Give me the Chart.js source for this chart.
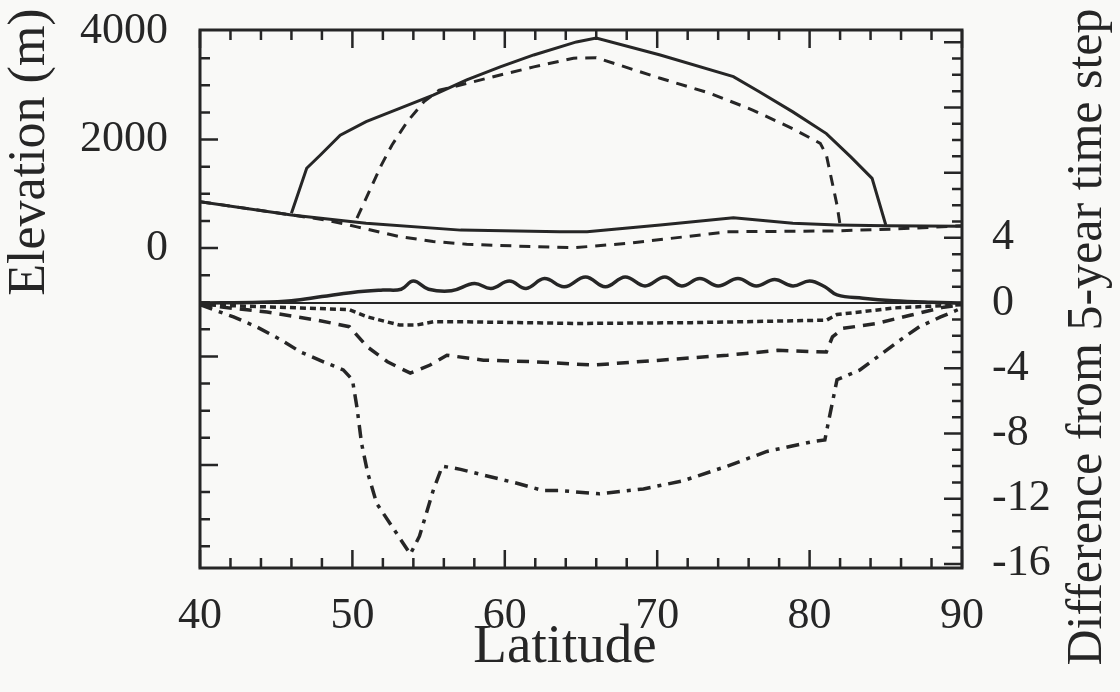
<!DOCTYPE html>
<html>
<head>
<meta charset="utf-8">
<title>Elevation and difference from 5-year time step</title>
<script src="https://cdn.jsdelivr.net/npm/chart.js@4.4.1/dist/chart.umd.min.js"></script>
<style>
  html, body { margin: 0; padding: 0; background: #f9f9f7; }
  #wrap { width: 1120px; height: 692px; position: relative; }
</style>
</head>
<body>
<div id="wrap"><canvas id="chart"></canvas></div>
<script>
// tick labels
const latTicks = [40, 50, 60, 70, 80, 90];
const elevTicks = [0, 2000, 4000];
const diffTicks = [-16, -12, -8, -4, 0, 4];

// upper panel: elevation (m)
const surfLat  = [46.0, 47.0, 47.9, 49.2, 50.9, 53.1, 55.3, 57.5, 59.7, 61.9, 64.7, 66.0, 70.2, 75.0, 76.7, 78.9, 81.1, 82.7, 84.1, 85.0];
const surfElev = [640, 1470, 1715, 2080, 2330, 2575, 2820, 3100, 3340, 3560, 3800, 3870, 3560, 3160, 2880, 2510, 2110, 1680, 1285, 425];

const surf5Lat  = [50.3, 51.2, 51.9, 52.6, 53.6, 54.7, 55.7, 57.5, 59.7, 61.9, 64.5, 66.0, 70.2, 73.5, 76.3, 78.9, 80.7, 81.1, 81.8, 82.0];
const surf5Elev = [550, 1100, 1530, 1900, 2330, 2700, 2910, 3035, 3190, 3340, 3500, 3510, 3130, 2850, 2540, 2200, 1930, 1715, 790, 425];

const bedLat  = [40, 46.0, 50.9, 57.1, 63.6, 65.4, 70.2, 75.0, 78.9, 81.8, 85.0, 90];
const bedElev = [855, 610, 455, 330, 300, 300, 425, 560, 455, 425, 410, 400];

const bed5Lat  = [40, 46.0, 48.3, 50.3, 53.1, 55.3, 57.5, 61.9, 64.5, 68.0, 71.9, 74.6, 81.6, 85.5, 90];
const bed5Elev = [855, 610, 515, 390, 210, 120, 70, 25, 5, 85, 210, 300, 315, 350, 410];

// lower panel: difference from 5-year time step
const zeroLat  = [40, 90];
const zeroDiff = [0, 0];

const waveLat  = [40, 44, 46, 48, 50, 52, 53.2, 54.0, 55.0, 56.5, 58.0, 59.1, 60.3, 61.4, 62.6, 63.9, 65.3, 66.6, 67.9, 69.2, 70.5, 71.6, 72.8, 74.0, 75.3, 76.5, 77.7, 78.9, 80.0, 81.0, 81.8, 83.5, 85.5, 88, 90];
const waveDiff = [0, 0.05, 0.15, 0.4, 0.65, 0.8, 0.85, 1.35, 0.85, 0.75, 1.2, 0.9, 1.35, 0.9, 1.5, 1.0, 1.6, 1.0, 1.6, 1.05, 1.6, 1.05, 1.5, 1.05, 1.5, 1.05, 1.45, 1.05, 1.35, 1.0, 0.5, 0.3, 0.15, 0.05, 0];

const dotLat  = [40, 46.6, 49.8, 51.0, 53.1, 54.2, 55.3, 57.5, 64.7, 72.3, 81.1, 81.8, 83.3, 85.5, 87.7, 90];
const dotDiff = [-0.1, -0.3, -0.4, -0.85, -1.35, -1.35, -1.15, -1.15, -1.25, -1.2, -1.05, -0.7, -0.55, -0.3, -0.2, -0.1];

const dashLat  = [40, 44.4, 47.7, 49.8, 51.0, 52.3, 53.8, 55.1, 56.2, 58.6, 61.9, 65.8, 70.2, 74.6, 77.9, 81.1, 81.5, 82.2, 84.4, 86.6, 88.8, 90];
const dashDiff = [-0.1, -0.55, -1.05, -1.45, -2.7, -3.6, -4.3, -3.8, -3.2, -3.5, -3.6, -3.8, -3.5, -3.2, -2.9, -3.0, -2.07, -1.55, -1.25, -0.75, -0.25, -0.1];

const ddLat  = [40, 42.2, 43.7, 45.2, 46.6, 48.1, 49.4, 50.0, 50.3, 50.6, 51.0, 51.6, 52.6, 53.8, 54.4, 55.3, 55.9, 57.1, 58.6, 60.8, 62.5, 63.6, 66.2, 69.1, 71.7, 74.6, 77.2, 80.2, 81.0, 81.3, 81.8, 83.3, 84.6, 85.9, 87.2, 88.6, 90];
const ddDiff = [-0.1, -0.85, -1.45, -2.2, -3.0, -3.6, -4.1, -4.7, -6.4, -8.6, -10.4, -12.3, -13.7, -15.4, -14.3, -11.5, -10.0, -10.2, -10.55, -11.05, -11.5, -11.5, -11.7, -11.4, -10.9, -10.0, -9.1, -8.5, -8.4, -7.0, -4.7, -4.1, -3.2, -2.3, -1.45, -0.85, -0.3];

const INK = '#262626';
const SERIF = '"Liberation Serif", "DejaVu Serif", serif';

function pts(xs, ys) {
    return xs.map((x, i) => ({ x: x, y: ys[i] }));
}
function series(xs, ys, axis, dash, width, tension) {
    return {
        data: pts(xs, ys),
        yAxisID: axis,
        borderColor: INK,
        borderWidth: width,
        borderDash: dash,
        pointRadius: 0,
        tension: tension || 0,
        fill: false
    };
}

// inward tick marks, frame and axis titles
const frame = {
    id: 'frame',
    afterDatasetsDraw(chart) {
        const ctx = chart.ctx;
        const a = chart.chartArea;
        const s = chart.scales;
        ctx.save();
        ctx.strokeStyle = INK;
        ctx.lineWidth = 2.5;
        ctx.beginPath();
        for (let v = 40; v <= 90; v += 2) {
            const px = s.x.getPixelForValue(v);
            const len = v % 10 === 0 ? 18 : 10;
            ctx.moveTo(px, a.bottom); ctx.lineTo(px, a.bottom - len);
            ctx.moveTo(px, a.top); ctx.lineTo(px, a.top + len);
        }
        for (let v = -5500; v < 4000; v += 500) {
            const py = s.y.getPixelForValue(v);
            const len = v % 2000 === 0 ? 18 : 10;
            ctx.moveTo(a.left, py); ctx.lineTo(a.left + len, py);
        }
        for (let v = -16; v <= 16; v += 1) {
            const py = s.y2.getPixelForValue(v);
            const len = v % 4 === 0 ? 18 : 10;
            ctx.moveTo(a.right, py); ctx.lineTo(a.right - len, py);
        }
        ctx.stroke();
        ctx.lineWidth = 3;
        ctx.strokeRect(a.left, a.top, a.right - a.left, a.bottom - a.top);
        ctx.restore();
    },
    afterDraw(chart) {
        const ctx = chart.ctx;
        ctx.save();
        ctx.fillStyle = INK;
        ctx.textAlign = 'center';
        ctx.textBaseline = 'middle';

        ctx.font = '52px ' + SERIF;
        ctx.save();
        ctx.translate(30, 152);
        ctx.rotate(-Math.PI / 2);
        ctx.fillText('Elevation (m)', 0, 0);
        ctx.restore();

        ctx.font = '50px ' + SERIF;
        ctx.save();
        ctx.translate(1088, 337);
        ctx.rotate(-Math.PI / 2);
        ctx.fillText('Difference from 5-year time step', 0, 0);
        ctx.restore();

        ctx.font = '55px ' + SERIF;
        ctx.fillText('Latitude', 565, 648);
        ctx.restore();
    }
};

const tickFont = { family: SERIF, size: 44 };
const plain = v => String(v);

// fixed axis sizes so the plot box sits where it does in the figure
function sideAxis(width) {
    return s => { s.width = width; s.paddingTop = 0; s.paddingBottom = 0; };
}

new Chart(document.getElementById('chart'), {
    type: 'line',
    data: {
        datasets: [
            series(bedLat, bedElev, 'y', [], 3),
            series(bed5Lat, bed5Elev, 'y', [11, 8], 3),
            series(surfLat, surfElev, 'y', [], 3),
            series(surf5Lat, surf5Elev, 'y', [11, 8], 3),
            series(zeroLat, zeroDiff, 'y2', [], 2),
            series(waveLat, waveDiff, 'y2', [], 3.5, 0.4),
            series(dotLat, dotDiff, 'y2', [6, 4], 3.5),
            series(dashLat, dashDiff, 'y2', [12, 8], 3.5),
            series(ddLat, ddDiff, 'y2', [13, 7, 4, 7], 3.5)
        ]
    },
    options: {
        responsive: true,
        maintainAspectRatio: false,
        animation: false,
        layout: { padding: { top: 30, left: 0, right: 0, bottom: 0 } },
        plugins: { legend: { display: false }, tooltip: { enabled: false } },
        scales: {
            x: {
                type: 'linear', min: 40, max: 90, position: 'bottom',
                afterBuildTicks: s => { s.ticks = latTicks.map(v => ({ value: v })); },
                afterFit: s => { s.height = 124; },
                grid: { display: false, drawTicks: false },
                border: { display: false },
                ticks: { font: tickFont, color: INK, padding: 22, maxRotation: 0, autoSkip: false, callback: plain }
            },
            y: {
                type: 'linear', min: -5900, max: 4020, position: 'left',
                afterBuildTicks: s => { s.ticks = elevTicks.map(v => ({ value: v })); },
                afterFit: sideAxis(200),
                grid: { display: false, drawTicks: false },
                border: { display: false },
                ticks: { font: tickFont, color: INK, padding: 32, autoSkip: false, callback: plain }
            },
            y2: {
                type: 'linear', min: -16.25, max: 16.75, position: 'right',
                afterBuildTicks: s => { s.ticks = diffTicks.map(v => ({ value: v })); },
                afterFit: sideAxis(158),
                grid: { display: false, drawTicks: false },
                border: { display: false },
                ticks: { font: tickFont, color: INK, padding: 30, autoSkip: false, callback: plain }
            }
        }
    },
    plugins: [frame]
});
</script>
</body>
</html>
